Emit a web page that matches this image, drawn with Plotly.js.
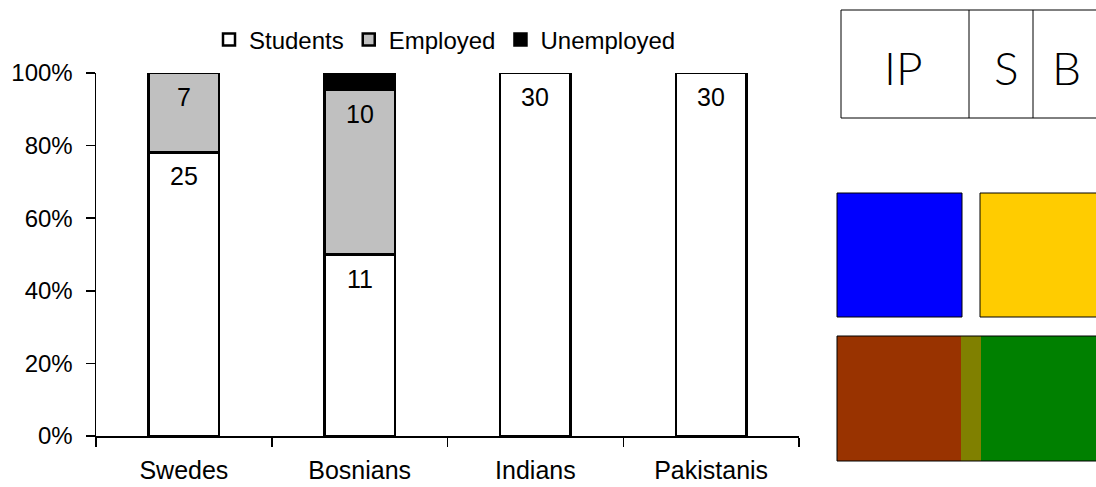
<!DOCTYPE html>
<html>
<head>
<meta charset="utf-8">
<script src="https://cdn.plot.ly/plotly-3.0.1.min.js"></script>
<style>html,body{margin:0;padding:0;background:#fff;}#chart{width:1096px;height:487px;}</style>
</head>
<body>
<div id="chart"></div>
<script>
// ---- data ----
const categories = ["Swedes", "Bosnians", "Indians", "Pakistanis"];
const students   = [25, 11, 30, 30];
const employed   = [7, 10, 0, 0];
const unemployed = [0, 1, 0, 0];
const seriesNames = ["Students", "Employed", "Unemployed"];
const yTickVals = [0, 20, 40, 60, 80, 100];
const yTickText = ["0%", "20%", "40%", "60%", "80%", "100%"];
const panelLabels = ["IP", "S", "B"];

// ---- geometry helpers (plot area in pixels) ----
const W = 1096, H = 487;
const M = {l: 96, r: 297, t: 73, b: 51};
const PW = W - M.l - M.r, PH = H - M.t - M.b;
const px = x => (x - M.l) / PW;
const py = y => (H - M.b - y) / PH;

const FONT = "Liberation Sans, Arial, sans-serif";
const FS = 25;
const line = {color: "#000", width: 2.5};

const traces = [
  {type: "bar", name: seriesNames[0], x: categories, y: students,
   marker: {color: "#ffffff", line: line}, hoverinfo: "none"},
  {type: "bar", name: seriesNames[1], x: categories, y: employed,
   marker: {color: "#c0c0c0", line: line}, hoverinfo: "none"},
  {type: "bar", name: seriesNames[2], x: categories, y: unemployed,
   marker: {color: "#000000", line: line}, hoverinfo: "none"}
];

// data labels: at the top of each labelled segment (inside end)
const annotations = [];
categories.forEach((c, i) => {
  const total = students[i] + employed[i] + unemployed[i];
  const tops = [students[i], students[i] + employed[i]];
  [students, employed].forEach((arr, k) => {
    if (arr[i] > 0) {
      annotations.push({x: c, y: tops[k] / total * 100, xref: "x", yref: "y",
        text: String(arr[i]), showarrow: false, yanchor: "middle", yshift: -24,
        font: {family: FONT, size: FS, color: "#000"}});
    }
  });
});

// decorative panel on the right
const shapes = [];
const rectPx = (x0, y0, x1, y1, fill, lw) => ({type: "rect", xref: "paper", yref: "paper",
  x0: px(x0), x1: px(x1), y0: py(y1), y1: py(y0), fillcolor: fill,
  line: {color: "#000", width: lw}, layer: "above"});
shapes.push(rectPx(841, 10, 1100, 118, "rgba(0,0,0,0)", 1));
shapes.push({type: "line", xref: "paper", yref: "paper", x0: px(969), x1: px(969), y0: py(118), y1: py(10), line: {color: "#000", width: 1}});
shapes.push({type: "line", xref: "paper", yref: "paper", x0: px(1033), x1: px(1033), y0: py(118), y1: py(10), line: {color: "#000", width: 1}});
shapes.push(rectPx(837, 193, 962, 317, "#0000ff", 1));
shapes.push(rectPx(980, 193, 1100, 317, "#ffcc00", 1));
shapes.push(rectPx(837, 336, 961, 461, "#993300", 0));
shapes.push(rectPx(961, 336, 981, 461, "#808000", 0));
shapes.push(rectPx(981, 336, 1100, 461, "#008000", 0));
shapes.push(rectPx(837, 336, 1100, 461, "rgba(0,0,0,0)", 1));

const panelX = [903, 1006, 1066];
panelLabels.forEach((t, i) => {
  annotations.push({xref: "paper", yref: "paper", x: px(panelX[i]), y: py(68),
    text: t, showarrow: false, xanchor: "center", yanchor: "middle",
    font: {family: "Lato, 'Open Sans', sans-serif", size: 46, weight: 300, color: "#000"}});
});

const layout = {
  width: W, height: H,
  margin: M,
  paper_bgcolor: "#fff", plot_bgcolor: "#fff",
  font: {family: FONT, size: FS, color: "#000"},
  barmode: "stack", barnorm: "percent", bargap: 0.6,
  showlegend: true,
  legend: {orientation: "h", x: px(445), xanchor: "center", y: py(40), yanchor: "middle",
    font: {family: FONT, size: 24, color: "#000"}, traceorder: "normal", itemclick: false},
  xaxis: {type: "category", showline: true, linecolor: "#000", linewidth: 1.5,
    ticks: "outside", tickson: "boundaries", ticklen: 9, tickcolor: "#000", tickwidth: 1.5,
    showgrid: false, zeroline: false, ticklabelstandoff: 11, fixedrange: true},
  yaxis: {range: [0, 100], tickmode: "array", tickvals: yTickVals, ticktext: yTickText,
    tickfont: {size: 24}, showline: true, linecolor: "#000", linewidth: 1.5, ticks: "outside",
    ticklen: 9, tickcolor: "#000", tickwidth: 1.5, showgrid: false, zeroline: false,
    ticklabelstandoff: 8, fixedrange: true},
  shapes: shapes,
  annotations: annotations
};

Plotly.newPlot("chart", traces, layout, {displayModeBar: false, staticPlot: true});
</script>
</body>
</html>
